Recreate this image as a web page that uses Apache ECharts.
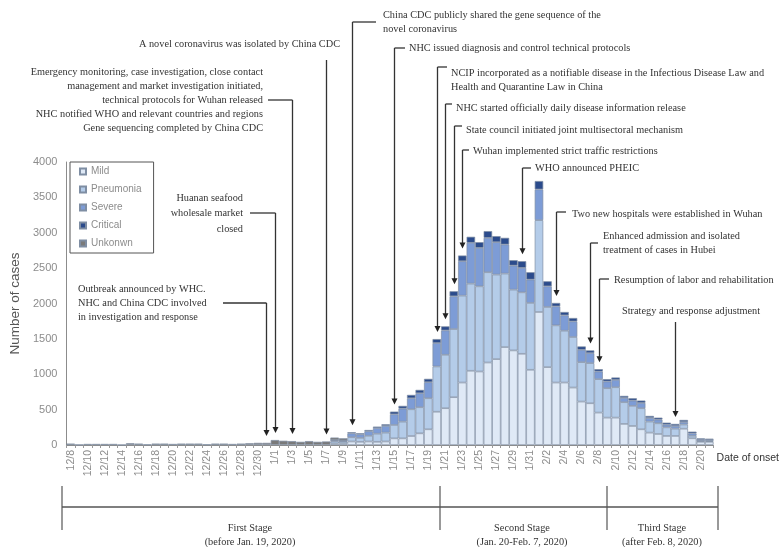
<!DOCTYPE html>
<html><head><meta charset="utf-8">
<script src="https://cdn.jsdelivr.net/npm/echarts@6/dist/echarts.min.js"></script>
<style>html,body{margin:0;padding:0;background:#fff}#c{width:782px;height:547px}</style>
</head><body><div id="c"></div>
<script>
const dates = ['12/8','12/9','12/10','12/11','12/12','12/13','12/14','12/15','12/16','12/17','12/18','12/19','12/20','12/21','12/22','12/23','12/24','12/25','12/26','12/27','12/28','12/29','12/30','12/31',
'1/1','1/2','1/3','1/4','1/5','1/6','1/7','1/8','1/9','1/10','1/11','1/12','1/13','1/14','1/15','1/16','1/17','1/18','1/19','1/20','1/21','1/22','1/23','1/24','1/25','1/26','1/27','1/28','1/29','1/30','1/31',
'2/1','2/2','2/3','2/4','2/5','2/6','2/7','2/8','2/9','2/10','2/11','2/12','2/13','2/14','2/15','2/16','2/17','2/18','2/19','2/20','2/21'];

const mild = [0,0,0,0,0,0,0,0,0,0,0,0,0,0,0,0,0,0,0,0,0,0,0,0,
0,0,0,0,0,0,0,20,20,50,45,50,45,50,94,94,127,165,222,470,520,676,883,1049,1039,1166,1214,1384,1337,1289,1063,
1880,1101,883,883,812,614,590,458,387,387,298,269,222,175,156,128,128,230,95,45,45];
const pneumonia = [0,0,0,0,0,0,0,0,0,0,0,0,0,0,0,0,0,0,0,0,0,0,0,0,
0,0,0,0,0,0,0,30,25,60,55,80,115,125,189,236,378,369,439,640,755,963,1228,1232,1204,1276,1195,1039,859,869,945,
1298,850,808,732,714,557,567,473,416,430,307,284,298,156,151,122,103,60,35,12,10];
const severe = [0,0,0,0,0,0,0,0,0,0,0,0,0,0,0,0,0,0,0,0,0,0,0,0,
0,0,0,0,0,0,0,15,15,55,50,65,80,95,151,185,156,198,227,331,345,463,487,577,544,486,458,411,340,346,330,
435,292,269,218,221,175,142,108,95,104,61,75,75,52,52,38,38,35,35,17,17];
const critical = [0,0,0,0,0,0,0,0,0,0,0,0,0,0,0,0,0,0,0,0,0,0,0,0,
0,0,0,0,0,0,0,5,5,15,15,17,20,23,38,38,47,47,47,56,57,71,80,85,80,95,85,94,76,94,104,
118,71,48,47,48,47,38,33,33,33,28,33,33,28,28,28,29,29,24,20,18];
const unknown = [20,5,15,15,15,15,3,25,20,8,20,20,15,20,20,20,10,20,20,15,20,25,30,30,
70,60,55,45,55,45,50,35,30,0,0,0,0,0,0,0,0,0,0,0,0,0,0,0,0,0,0,0,0,0,0,
0,0,0,0,0,0,0,0,0,0,0,0,0,0,0,0,0,0,0,0,0];

const seriesNames = ['Mild','Pneumonia','Severe','Critical','Unkonwn'];
const seriesData = [mild, pneumonia, severe, critical, unknown];
const colors = ['#dfe9f6','#b4cce9','#7d9cd6','#2b4b8c','#7a7a7a'];

const events = [
  {date:'12/31', lines:['Outbreak announced by WHC.','NHC and China CDC involved','in investigation and response'], tx:78, ty:289, lh:14, align:'left', elbowY:303, stubX:223},
  {date:'1/1', lines:['Huanan seafood','wholesale market','closed'], tx:243, ty:198, lh:15.5, align:'right', elbowY:213, stubX:250},
  {date:'1/3', lines:['Emergency monitoring, case investigation, close contact','management and market investigation initiated,','technical protocols for Wuhan released','NHC notified WHO and relevant countries and regions','Gene sequencing completed by China CDC'], tx:263, ty:72, lh:14, align:'right', elbowY:100, stubX:268},
  {date:'1/7', lines:['A novel coronavirus was isolated by China CDC'], tx:340, ty:44, lh:14, align:'right', elbowY:60, stubX:null},
  {date:'1/10', lines:['China CDC publicly shared the gene sequence of the','novel coronavirus'], tx:383, ty:15, lh:14, align:'left', elbowY:22, stubX:376},
  {date:'1/15', lines:['NHC issued diagnosis and control technical protocols'], tx:409, ty:48, lh:14, align:'left', elbowY:48, stubX:405},
  {date:'1/20', lines:['NCIP incorporated as a notifiable disease in the Infectious Disease Law and','Health and Quarantine Law in China'], tx:451, ty:73, lh:14, align:'left', elbowY:67, stubX:447},
  {date:'1/21', lines:['NHC started officially daily disease information release'], tx:456, ty:108, lh:14, align:'left', elbowY:104, stubX:452},
  {date:'1/22', lines:['State council initiated joint multisectoral mechanism'], tx:466, ty:130, lh:14, align:'left', elbowY:126, stubX:462},
  {date:'1/23', lines:['Wuhan implemented strict traffic restrictions'], tx:473, ty:151, lh:14, align:'left', elbowY:150, stubX:469},
  {date:'1/30', lines:['WHO announced PHEIC'], tx:535, ty:168, lh:14, align:'left', elbowY:168, stubX:531},
  {date:'2/3', lines:['Two new hospitals were established in Wuhan'], tx:572, ty:214, lh:14, align:'left', elbowY:212, stubX:566},
  {date:'2/7', lines:['Enhanced admission and isolated','treatment of cases in Hubei'], tx:603, ty:236, lh:14, align:'left', elbowY:243, stubX:598},
  {date:'2/8', lines:['Resumption of labor and rehabilitation'], tx:614, ty:280, lh:14, align:'left', elbowY:279, stubX:609},
  {date:'2/17', lines:['Strategy and response adjustment'], tx:622, ty:311, lh:14, align:'left', elbowY:322, stubX:null}
];

const stages = [
  {title:'First Stage', sub:'(before Jan. 19, 2020)', cx:250},
  {title:'Second Stage', sub:'(Jan. 20-Feb. 7, 2020)', cx:522},
  {title:'Third Stage', sub:'(after Feb. 8, 2020)', cx:662}
];
const stageTicks = [62, 440, 607, 718];

const chart = echarts.init(document.getElementById('c'));
const SERIF = 'Liberation Serif';
const SANS = 'Liberation Sans';

chart.setOption({
  animation:false,
  backgroundColor:'#fff',
  grid:{left:63, right:62, top:162, bottom:102, containLabel:false},
  legend:{orient:'vertical', left:70, top:162, itemWidth:6, itemHeight:6, itemGap:7, padding:[4,12,4,9],
    borderColor:'#555', borderWidth:1, icon:'rect',
    textStyle:{color:'#8c8c8c', fontSize:10, fontFamily:SANS, lineHeight:11}, data:seriesNames},
  xAxis:{type:'category', data:dates, boundaryGap:true,
    axisLine:{lineStyle:{color:'#8c8c8c'}},
    axisTick:{show:true, interval:0, length:3, lineStyle:{color:'#9a9a9a'}},
    axisLabel:{interval:1, rotate:90, fontSize:10.5, color:'#8c8c8c', margin:5, fontFamily:SANS},
    name:'Date of onset', nameLocation:'end', nameGap:3,
    nameTextStyle:{color:'#333', fontSize:10.5, fontFamily:SANS, verticalAlign:'top', padding:[8,0,0,0]}},
  yAxis:{type:'value', min:0, max:4000, interval:500, splitLine:{show:false},
    axisLine:{show:true, lineStyle:{color:'#8c8c8c'}}, axisTick:{show:false},
    axisLabel:{color:'#8c8c8c', fontSize:11, margin:9, fontFamily:SANS, formatter:v=>String(v)},
    name:'Number of cases', nameLocation:'middle', nameGap:40,
    nameTextStyle:{color:'#555', fontSize:13.5, fontFamily:SANS}},
  series: seriesNames.map((n,i)=>({
    name:n, type:'bar', stack:'total', barCategoryGap:'0%',
    data: seriesData[i].map(v=> v>0 ? v : '-'),
    itemStyle:{color:colors[i], borderColor:'#7f8ea3', borderWidth:0.7}
  }))
});

const g = [];
const lineStyle = {stroke:'#333', lineWidth:1.3};
const txtStyle = (t,x,y,align)=>({type:'text', style:{text:t, x:x, y:y, fill:'#333', font:'10.3px "'+SERIF+'"', textAlign:align, textVerticalAlign:'middle'}});

events.forEach(ev=>{
  const idx = dates.indexOf(ev.date);
  const total = mild[idx]+pneumonia[idx]+severe[idx]+critical[idx]+unknown[idx];
  const p = chart.convertToPixel({gridIndex:0}, [idx, total]);
  const px = Math.round(p[0])+0.5;
  const tip = p[1]-7;
  g.push({type:'line', shape:{x1:px, y1:ev.elbowY, x2:px, y2:tip-5}, style:lineStyle});
  g.push({type:'polygon', shape:{points:[[px-3,tip-6],[px+3,tip-6],[px,tip]]}, style:{fill:'#222'}});
  if(ev.stubX!==null){
    g.push({type:'line', shape:{x1:px, y1:ev.elbowY, x2:ev.stubX, y2:ev.elbowY}, style:lineStyle});
  }
  ev.lines.forEach((t,k)=> g.push(txtStyle(t, ev.tx, ev.ty + k*ev.lh, ev.align)));
});

// stage bracket
g.push({type:'line', shape:{x1:stageTicks[0], y1:507, x2:stageTicks[3], y2:507}, style:{stroke:'#555', lineWidth:1.5}});
stageTicks.forEach(x=> g.push({type:'line', shape:{x1:x, y1:486, x2:x, y2:530}, style:{stroke:'#555', lineWidth:1.2}}));
stages.forEach(s=>{
  g.push(txtStyle(s.title, s.cx, 528, 'center'));
  g.push(txtStyle(s.sub, s.cx, 542, 'center'));
});

chart.setOption({graphic:g});
</script>
</body></html>
